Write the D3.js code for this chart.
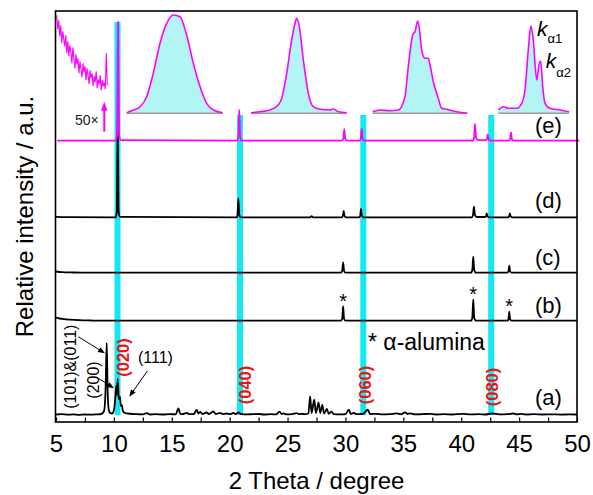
<!DOCTYPE html>
<html><head><meta charset="utf-8">
<script src="https://cdn.jsdelivr.net/npm/d3@7/dist/d3.min.js"></script>
<style>
html,body{margin:0;padding:0;background:#fff;}
svg{display:block;font-family:"Liberation Sans",Arial,sans-serif;}
</style></head><body>
<div id="chart"></div>
<script>
// ---- data: [2theta, intensity a.u.] ----
const traceNames = ['(a)', '(b)', '(c)', '(d)', '(e)'];
const offsets = [7, 101.3, 149.3, 204.7, 281.3];

const traceA = [[5.0,0.5],[5.5,0.8],[6.0,0.3],[6.5,0.6],[7.0,0.2],[7.5,0.5],[8.0,0.3],[8.5,0.6],[8.9,1],[9.15,4],[9.28,25],[9.38,72],[9.46,25],[9.56,5],[9.7,2],[9.85,1.5],[10.0,5],[10.1,14],[10.2,29],[10.26,20],[10.33,36],[10.42,16],[10.53,18],[10.6,9],[10.68,10],[10.78,4],[10.95,2],[11.2,1.5],[11.6,1],[12.0,0.8],[12.5,0.6],[12.84,1.8],[13.1,0.5],[13.6,0.8],[14.2,0.5],[14.8,0.9],[15.35,0.6],[15.57,6.7],[15.75,0.8],[16.0,1],[16.3,2.2],[16.5,0.8],[16.9,1],[17.16,5],[17.3,1.5],[17.45,3],[17.65,1],[18.0,2.5],[18.2,1],[18.6,3.5],[18.8,1],[19.17,2],[19.4,0.8],[19.75,1.5],[20.0,0.8],[20.33,2],[20.5,1],[20.76,2.5],[21.0,0.8],[21.5,0.6],[22.0,0.9],[22.5,1],[23.0,0.5],[23.6,0.8],[24.0,0.6],[24.3,3.3],[24.5,1],[24.65,1.6],[24.9,0.6],[25.4,0.8],[25.8,1.8],[26.0,0.8],[26.23,1.2],[26.5,0.8],[26.8,1.5],[26.95,18.7],[27.08,2],[27.3,15.3],[27.45,2],[27.68,12.7],[27.82,2],[28.0,10],[28.15,1.5],[28.4,6],[28.55,1.2],[28.8,3.3],[29.0,0.8],[29.5,0.6],[30.0,0.9],[30.3,5.3],[30.45,1],[30.7,2],[31.0,0.8],[31.5,1],[31.94,5.3],[32.1,1],[32.7,1.2],[33.2,0.6],[33.8,0.8],[34.45,1.6],[34.8,0.7],[35.16,2.7],[35.35,1],[35.6,1.6],[36.0,0.6],[36.6,0.8],[37.3,1.2],[37.8,0.5],[38.5,0.8],[39.2,0.5],[40.2,1.1],[40.8,0.6],[41.5,0.8],[42.1,0.5],[42.65,1.5],[43.3,0.6],[44.0,0.8],[44.5,1.5],[44.8,0.6],[45.1,1.2],[45.6,0.5],[46.3,0.8],[47.0,0.5],[47.8,0.7],[48.6,0.4],[49.3,0.6],[50.0,0.5]];

const traceB = [[5.0,3],[5.3,2.2],[5.7,1.5],[6.2,1],[7.0,0.5],[8.0,0.2],[9.0,0],[29.6,0],[29.72,2],[29.8,14.5],[29.88,2],[30.02,0],[40.85,0],[40.96,3],[41.04,21.4],[41.12,3],[41.28,0],[43.98,0],[44.08,1.4],[44.15,9],[44.22,1.4],[44.36,0],[50.0,0]];

const traceC = [[5.0,1.2],[5.5,0.6],[6.5,0.2],[8.0,0],[29.62,0],[29.72,2],[29.8,10.4],[29.88,2],[30.0,0],[40.85,0],[40.96,3],[41.04,16],[41.12,3],[41.26,0],[43.98,0],[44.08,1.3],[44.15,7],[44.22,1.3],[44.35,0],[50.0,0]];

const traceD = [[5.0,0.5],[6.0,0.2],[10.15,0],[10.25,5],[10.33,97],[10.41,5],[10.55,0.5],[20.6,0],[20.68,3],[20.75,19],[20.82,3],[20.95,0],[26.95,0],[27.08,1.2],[27.2,0],[29.7,0],[29.78,1.5],[29.85,6.3],[29.92,1.5],[30.05,0],[31.2,0],[31.28,1.8],[31.34,8.3],[31.41,1.8],[31.55,0],[40.93,0],[41.02,2.5],[41.1,10.6],[41.18,2.5],[41.35,0.3],[42.08,0.3],[42.15,1.2],[42.2,4],[42.26,1.2],[42.4,0],[44.05,0],[44.13,1],[44.2,4],[44.27,1],[44.4,0],[50.0,0]];

const traceE = [[5.1,0],[10.15,0],[10.27,6],[10.36,119],[10.45,6],[10.6,0.5],[20.65,0],[20.75,4],[20.83,31],[20.91,4],[21.05,0],[29.7,0],[29.82,2],[29.9,11.5],[29.98,2],[30.15,0],[31.2,0],[31.32,2],[31.4,12],[31.48,2],[31.65,0],[41.0,0],[41.11,3],[41.19,16.7],[41.28,3],[41.45,0.5],[42.12,0.5],[42.22,1.5],[42.29,6.4],[42.36,1.5],[42.5,0],[44.12,0],[44.22,1.5],[44.3,8.4],[44.38,1.5],[44.55,0],[50.2,0]];

const traces = [traceA, traceB, traceC, traceD, traceE];

const reflections = ['(020)', '(040)', '(060)', '(080)'];
const reflectionPos = [10.31, 20.89, 31.54, 42.59];
const aluminaPos = [29.8, 41.04, 44.15];

const xTickValues = [5, 7.5, 10, 12.5, 15, 17.5, 20, 22.5, 25, 27.5, 30, 32.5, 35, 37.5, 40, 42.5, 45, 47.5, 50];
const xTickLabels = [5, 10, 15, 20, 25, 30, 35, 40, 45, 50];

// 50x zoomed low-angle part of (e)
const noiseE = [98, 84, 93, 77, 88, 70, 82, 74, 67, 78, 60, 72, 57, 68, 62, 50, 66, 54, 45, 59, 49, 55, 40, 52, 44, 36, 50, 41, 47, 33, 45, 38, 29, 43, 35, 40, 27, 37, 31, 42, 25, 34, 29, 38, 23, 33, 27, 31, 24, 60, 28];
// magnified peaks of (e): [fraction across inset, % of inset height]
const inset020 = [[0,0.6],[0.066,3],[0.139,6.6],[0.208,16.6],[0.277,40],[0.347,70],[0.417,90],[0.485,98.3],[0.555,96.6],[0.625,78],[0.694,50],[0.764,26.6],[0.833,10],[0.902,3.3],[1,0.6]];
const inset040 = [[0,0.6],[0.094,1.6],[0.199,3.3],[0.285,8.3],[0.321,15],[0.373,40],[0.425,73.3],[0.46,90],[0.478,95],[0.505,86.6],[0.547,53.3],[0.599,20],[0.651,6.6],[0.721,4],[0.825,3.3],[0.86,4.3],[0.912,1.6],[1,0.6]];
const inset060 = [[0,1.6],[0.077,3.3],[0.183,2.6],[0.271,3.3],[0.341,16.6],[0.376,46.6],[0.423,78.3],[0.447,81.6],[0.476,92.3],[0.493,85],[0.518,63.3],[0.553,55],[0.588,55],[0.606,48.3],[0.641,31.6],[0.693,15],[0.729,5],[0.782,4],[0.888,1.6],[1,0]];
const inset080 = [[0,3.3],[0.071,6.6],[0.141,5],[0.26,5],[0.331,10],[0.378,23.3],[0.424,63.3],[0.462,87.3],[0.495,73.3],[0.543,33.3],[0.58,50],[0.6,52.3],[0.628,26.6],[0.661,10],[0.731,5],[0.873,3.3],[1,1.6]];
const insets = [inset020, inset040, inset060, inset080];

// ---- layout ----
const W = 593, H = 495;
const MAG = '#ff00ff', CYAN = '#14e8f2', FILL = '#b3f4f4', RED = '#ee1111';
const insetBoxes = [[126.7, 222.7], [251, 346.7], [372.7, 467.3], [498.3, 569]];
const insetBase = 113.3;
const bandTops = [400, 307, 307, 307];
const redDx = [6, 5, 2, 0.5], redCy = [357.5, 385, 385, 387];
const labelBase = [404.7, 313.2, 264.7, 208.2, 133.2];

const svg = d3.select('#chart').append('svg').attr('width', W).attr('height', H);
const x = d3.scaleLinear().domain([5, 50]).range([56, 577]);
const y = d3.scaleLinear().domain([0, 411]).range([422, 11]);

const arrow = (g, x1, y1, x2, y2, color, hl = 8, hw = 3.2, sw = 1) => {
  const a = Math.atan2(y2 - y1, x2 - x1), c = Math.cos(a), s = Math.sin(a);
  const bx = x2 - c * hl, by = y2 - s * hl;
  g.append('line').attr('x1', x1).attr('y1', y1).attr('x2', bx + c).attr('y2', by + s)
    .attr('stroke', color).attr('stroke-width', sw);
  g.append('path').attr('fill', color)
    .attr('d', `M${x2},${y2}L${bx - s * hw},${by + c * hw}L${bx + s * hw},${by - c * hw}Z`);
};

// cyan reflection bands
svg.append('g').selectAll('rect').data(reflectionPos).join('rect')
  .attr('x', d => x(d) - 3).attr('width', 6)
  .attr('y', (d, i) => y(bandTops[i])).attr('height', (d, i) => y(offsets[0]) - y(bandTops[i]))
  .attr('fill', CYAN);

// insets
const iy = d3.scaleLinear().domain([0, 100]).range([insetBase, insetBase - 100]);
insets.forEach((data, i) => {
  const ix = d3.scaleLinear().domain([0, 1]).range(insetBoxes[i]);
  const g = svg.append('g');
  g.append('path').datum(data).attr('fill', FILL)
    .attr('d', d3.area().x(d => ix(d[0])).y0(iy(0)).y1(d => iy(d[1])).curve(d3.curveMonotoneX));
  g.append('line').attr('x1', ix(0)).attr('x2', ix(1)).attr('y1', iy(0)).attr('y2', iy(0))
    .attr('stroke', '#999').attr('stroke-width', 1.5);
  g.append('path').datum(data).attr('fill', 'none').attr('stroke', MAG).attr('stroke-width', 1.6)
    .attr('d', d3.line().x(d => ix(d[0])).y(d => iy(d[1])).curve(d3.curveMonotoneX));
});
const nx = d3.scaleLinear().domain([0, noiseE.length - 1]).range([56.7, 107.3]);
svg.append('path').datum(noiseE).attr('fill', 'none').attr('stroke', MAG).attr('stroke-width', 1.1)
  .attr('d', d3.line().x((d, i) => nx(i)).y(d => iy(d)));

// traces
traces.forEach((data, i) => {
  svg.append('path').datum(data).attr('fill', 'none')
    .attr('stroke', i === 4 ? MAG : '#000').attr('stroke-width', 1.8).attr('stroke-linejoin', 'round')
    .attr('d', d3.line().x(d => x(d[0])).y(d => y(d[1] + offsets[i])).curve(d3.curveMonotoneX));
});

// frame + axis
svg.append('rect').attr('x', 55.5).attr('y', 11).attr('width', 577 - 55.5).attr('height', 411)
  .attr('fill', 'none').attr('stroke', '#000').attr('stroke-width', 1.6);
const ax = svg.append('g').attr('transform', `translate(0,${y(0)})`)
  .call(d3.axisBottom(x).tickValues(xTickValues).tickSizeInner(-4.5).tickSizeOuter(0).tickPadding(13)
    .tickFormat(d => xTickLabels.includes(d) ? d : ''));
ax.select('.domain').remove();
ax.selectAll('line').attr('stroke', '#000').attr('stroke-width', 1.2);
ax.selectAll('text').attr('font-size', 24).attr('fill', '#000')
  .attr('font-family', '"Liberation Sans",Arial,sans-serif');

svg.append('text').attr('x', (x(5) + x(50)) / 2).attr('y', 489).attr('text-anchor', 'middle')
  .attr('font-size', 24).text('2 Theta / degree');
svg.append('text').attr('transform', `translate(33,${(y(0) + y(411)) / 2}) rotate(-90)`)
  .attr('text-anchor', 'middle').attr('font-size', 24).text('Relative intensity / a.u.');

// trace labels
svg.append('g').selectAll('text').data(traceNames).join('text')
  .attr('x', 535).attr('y', (d, i) => labelBase[i]).attr('font-size', 22).text(d => d);

// reflection labels
svg.append('g').selectAll('text').data(reflections).join('text')
  .attr('transform', (d, i) => `translate(${x(reflectionPos[i]) + redDx[i]},${redCy[i]}) rotate(-90)`)
  .attr('text-anchor', 'middle').attr('dominant-baseline', 'central')
  .attr('font-size', 16.5).attr('font-weight', 'bold').attr('fill', RED).text(d => d);

// alumina asterisks on (b)
svg.append('g').selectAll('text').data(aluminaPos).join('text')
  .attr('x', d => x(d)).attr('text-anchor', 'middle').attr('font-size', 20)
  .attr('y', d => y(offsets[1] + d3.max(traceB.filter(p => Math.abs(p[0] - d) < 0.3), p => p[1])) - 10 + 11.4)
  .text('*');
svg.append('text').attr('x', 368).attr('y', 350).attr('font-size', 23).text('* α-alumina');

// (a) hkl annotations, in data units
const ann = svg.append('g');
const hkl = [['(101)&(011)', 6.21, 55.3, true], ['(200)', 8.22, 42, true], ['(111)', 13.59, 64.7, false]];
hkl.forEach(([t, px, py, rot]) => {
  ann.append('text').attr('transform', `translate(${x(px)},${y(py)})` + (rot ? ' rotate(-90)' : ''))
    .attr('text-anchor', 'middle').attr('dominant-baseline', 'central').attr('font-size', 16).text(t);
});
const hklArrows = [[6.93, 85.3, 9.23, 68.7], [8.52, 44.7, 10.01, 33.7], [12.89, 51, 11.33, 25.3]];
hklArrows.forEach(([a, b, c, d]) => arrow(ann, x(a), y(b), x(c), y(d), '#000', 7, 2.8, 1));

// 50x marker and k-alpha labels
svg.append('text').attr('x', 75).attr('y', 125).attr('font-size', 14).attr('fill', '#222').text('50×');
arrow(svg, 104.3, 131.7, 104.3, 101.7, MAG, 9, 3.2, 2);
const kl = [['α1', 537, 36, 7], ['α2', 545.7, 68.3, 8.4]];
kl.forEach(([s, kx, ky, dy]) => {
  const t = svg.append('text').attr('x', kx).attr('y', ky).attr('font-size', 21);
  t.append('tspan').attr('font-style', 'italic').text('k');
  t.append('tspan').attr('font-size', 13).attr('dy', dy).text(s);
});
</script>
</body></html>
